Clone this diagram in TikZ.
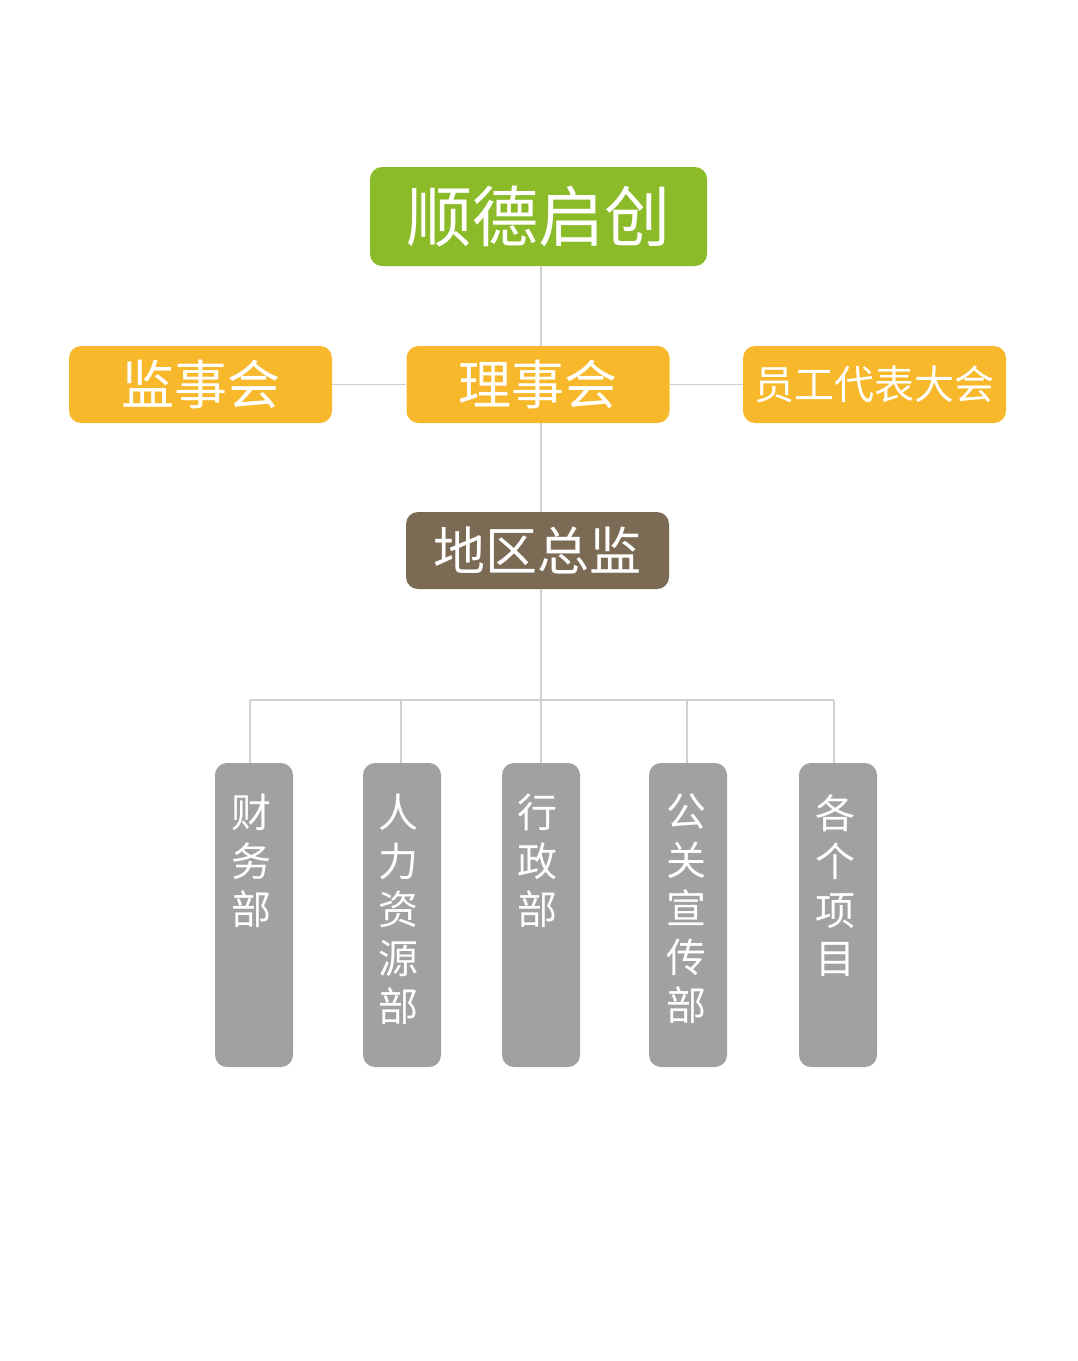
\documentclass[tikz,border=0pt]{standalone}
\usepackage{fontspec}
\newfontfamily\cjk{Noto Sans CJK SC}
\definecolor{cgreen}{HTML}{8CBB2A}
\definecolor{corange}{HTML}{F7B82C}
\definecolor{cbrown}{HTML}{7B6B55}
\definecolor{cgray}{HTML}{A0A1A0}
\definecolor{cline}{HTML}{CFCFCF}
\tikzset{
  box/.style={rounded corners=12pt, inner sep=0pt, text=white, font=\cjk},
  topbox/.style={box, fill=cgreen, minimum width=337pt, minimum height=99pt, font=\cjk\fontsize{66}{66}\selectfont},
  midbox/.style={box, fill=corange, minimum width=263pt, minimum height=77pt, font=\cjk\fontsize{53}{53}\selectfont},
  dirbox/.style={box, fill=cbrown, minimum width=263pt, minimum height=77pt, font=\cjk\fontsize{52}{52}\selectfont},
  bar/.style={box, fill=cgray, minimum width=78pt, minimum height=304pt},
  bartext/.style={anchor=north, inner sep=0pt, text=white, align=center, font=\cjk\fontsize{40}{48.5}\selectfont},
  conn/.style={draw=cline, line width=1.3pt}
}
\begin{document}
\begin{tikzpicture}[x=1pt,y=-1pt]
\useasboundingbox (0,0) rectangle (1078,1361);
\node[topbox] (top) at (538.5,216.5) {顺德启创};
\node[midbox] (jian) at (200.5,384.5) {监事会};
\node[midbox] (li) at (538,384.5) {理事会};
\node[midbox, font=\cjk\fontsize{40}{40}\selectfont] (yuan) at (874.5,384.5) {员工代表大会};
\node[dirbox] (dir) at (537.5,550.5) {地区总监};
\node[bar] (b1) at (254,915) {};
\node[bar] (b2) at (402,915) {};
\node[bar] (b3) at (541,915) {};
\node[bar] (b4) at (688,915) {};
\node[bar] (b5) at (838,915) {};
\node[bartext] (t1) at (251,794) {财\\务\\部};
\node[bartext] (t2) at (398,794) {人\\力\\资\\源\\部};
\node[bartext] (t3) at (537,794) {行\\政\\部};
\node[bartext] (t4) at (686,794) {公\\关\\宣\\传\\部};
\node[bartext] (t5) at (835,794) {各\\个\\项\\目};
\coordinate (hub) at (541,700);
\coordinate (h1) at (250,700);
\coordinate (h2) at (401,700);
\coordinate (h4) at (687,700);
\coordinate (h5) at (834,700);
\draw[conn] (top.south -| hub) -- (li.north -| hub);
\draw[conn] (li.south -| hub) -- (dir.north -| hub);
\draw[conn] (dir.south -| hub) -- (b3.north -| hub);
\draw[conn] (jian.east) -- (li.west);
\draw[conn] (li.east) -- (yuan.west);
\draw[conn] (h1) -- (h5);
\draw[conn] (h1) -- (b1.north -| h1);
\draw[conn] (h2) -- (b2.north -| h2);
\draw[conn] (h4) -- (b4.north -| h4);
\draw[conn] (h5) -- (b5.north -| h5);
\end{tikzpicture}
\end{document}
